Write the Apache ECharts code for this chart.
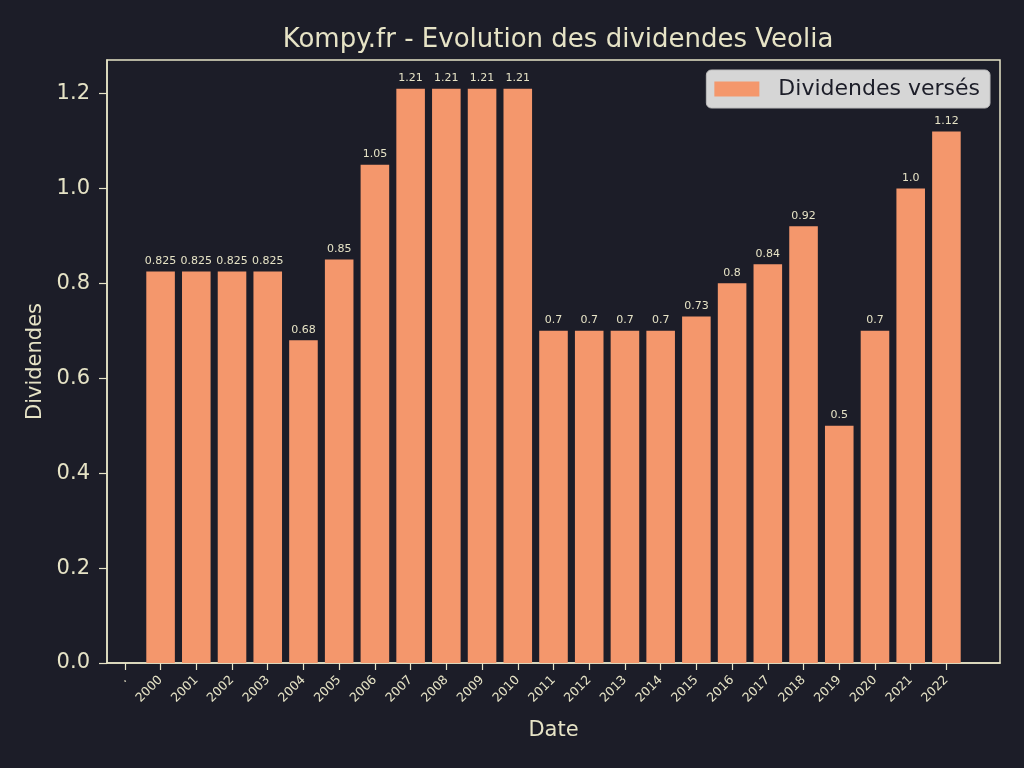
<!DOCTYPE html>
<html>
<head>
<meta charset="utf-8">
<script src="https://cdn.jsdelivr.net/npm/echarts@6/dist/echarts.min.js"></script>
<style>html,body{margin:0;padding:0;background:#1c1d28;}#c{width:1024px;height:768px;}</style>
</head>
<body>
<div id="c"></div>
<script>
const categories = ['.', '2000','2001','2002','2003','2004','2005','2006','2007','2008','2009','2010','2011','2012','2013','2014','2015','2016','2017','2018','2019','2020','2021','2022', ''];
const dividends = [null, 0.825,0.825,0.825,0.825,0.68,0.85,1.05,1.21,1.21,1.21,1.21,0.7,0.7,0.7,0.7,0.73,0.8,0.84,0.92,0.5,0.7,1.0,1.12, null];
const yTicks = [0, 0.2, 0.4, 0.6, 0.8, 1.0, 1.2];

const cream = '#e6e3c6';
const font = 'DejaVu Sans';
const chart = echarts.init(document.getElementById('c'));
chart.setOption({
  backgroundColor: '#1c1d28',
  animation: false,
  textStyle: { fontFamily: font },
  title: {
    text: 'Kompy.fr - Evolution des dividendes Veolia',
    left: 553, top: 22, textAlign: 'center',
    textStyle: { color: cream, fontSize: 26, fontWeight: 'normal', fontFamily: font }
  },
  legend: {
    right: 34, top: 70,
    backgroundColor: '#d6d6d6',
    borderColor: '#bdbdbd', borderWidth: 1, borderRadius: 5,
    padding: [8, 10, 8, 8],
    itemWidth: 45, itemHeight: 15, itemGap: 10,
    icon: 'rect',
    textStyle: { color: '#1c1d28', fontSize: 22, fontFamily: font, padding: [0, 0, 0, 14] },
    data: ['Dividendes versés']
  },
  grid: {
    left: 107, right: 24, top: 60, bottom: 105,
    show: true, borderColor: cream, borderWidth: 1.5, containLabel: false
  },
  xAxis: {
    type: 'category',
    data: categories,
    name: 'Date', nameLocation: 'middle', nameGap: 57,
    nameTextStyle: { color: cream, fontSize: 21, fontFamily: font },
    axisLine: { show: true, lineStyle: { color: cream, width: 1.5 } },
    axisTick: {
      show: true, alignWithLabel: true, length: 7,
      lineStyle: { color: cream, width: 1.2 },
      interval: function (i, v) { return v !== ''; }
    },
    axisLabel: {
      color: cream, fontSize: 12.5, rotate: 45, interval: 0, margin: 15, fontFamily: font
    },
    splitLine: { show: false }
  },
  yAxis: {
    type: 'value',
    min: 0, max: 1.2705, interval: 0.2,
    name: 'Dividendes', nameLocation: 'middle', nameGap: 61,
    nameTextStyle: { color: cream, fontSize: 21, fontFamily: font },
    axisLine: { show: true, lineStyle: { color: cream, width: 1.5 } },
    axisTick: { show: true, length: 8, lineStyle: { color: cream, width: 1.2 } },
    axisLabel: {
      color: cream, fontSize: 21, margin: 17, fontFamily: font,
      showMaxLabel: false,
      formatter: function (v) { return yTicks.some(t => Math.abs(t - v) < 1e-9) ? v.toFixed(1) : ''; }
    },
    splitLine: { show: false }
  },
  series: [{
    name: 'Dividendes versés',
    type: 'bar',
    data: dividends,
    barWidth: '80%',
    itemStyle: { color: '#f4976c' },
    label: {
      show: true, position: 'top', distance: 5,
      color: cream, fontSize: 11, fontFamily: font,
      formatter: function (p) {
        const v = p.value;
        if (v === null || v === undefined) return '';
        return Number.isInteger(v) ? v.toFixed(1) : String(v);
      }
    }
  }]
});
</script>
</body>
</html>
